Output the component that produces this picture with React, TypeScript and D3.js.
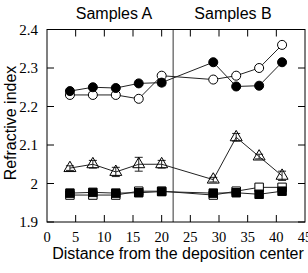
import React, { useEffect, useRef } from 'react';
import * as d3 from 'd3';

const xs = [4, 8, 12, 16, 20, 29, 33, 37, 41];
const filledCircles = [2.24, 2.25, 2.248, 2.26, 2.262, 2.315, 2.252, 2.254, 2.315];
const openCircles = [2.23, 2.23, 2.23, 2.22, 2.28, 2.27, 2.28, 2.3, 2.36];
const triangles = [2.04, 2.05, 2.03, 2.05, 2.05, 2.01, 2.12, 2.07, 2.02];
const triangleErr = [0.006, 0.01, 0.012, 0.018, 0.01, 0.006, 0.01, 0.006, 0.012];
const openSquares = [1.97, 1.97, 1.97, 1.98, 1.98, 1.97, 1.98, 1.99, 1.99];
const filledSquares = [1.975, 1.977, 1.975, 1.976, 1.979, 1.975, 1.976, 1.972, 1.98];
const xTicks = [0, 5, 10, 15, 20, 25, 30, 35, 40, 45];
const yTicks = [1.9, 2.0, 2.1, 2.2, 2.3, 2.4];
const divider = 22;

function App() {
    const ref = useRef<SVGSVGElement>(null);

    useEffect(() => {
        const svg = d3.select(ref.current);
        svg.selectAll('*').remove();

        const left = 47, right = 305, top = 29.5, bottom = 222;
        const x = d3.scaleLinear().domain([0, 45]).range([left, right]);
        const y = d3.scaleLinear().domain([1.9, 2.4]).range([bottom, top]);
        const tick = 7;
        const sans = 'Liberation Sans, Arial, sans-serif';
        const serif = 'Liberation Serif, Times New Roman, serif';

        // ticks, inward on all four sides
        const g = svg.append('g').attr('stroke', '#000').attr('stroke-width', 1);
        xTicks.forEach(t => {
            if (t === 0 || t === 45) return;
            g.append('line').attr('x1', x(t)).attr('x2', x(t)).attr('y1', bottom).attr('y2', bottom - tick);
            g.append('line').attr('x1', x(t)).attr('x2', x(t)).attr('y1', top).attr('y2', top + tick);
        });
        yTicks.forEach(t => {
            g.append('line').attr('x1', left).attr('x2', left + tick).attr('y1', y(t)).attr('y2', y(t));
            g.append('line').attr('x1', right).attr('x2', right - tick).attr('y1', y(t)).attr('y2', y(t));
        });

        svg.append('line')
            .attr('x1', x(divider)).attr('x2', x(divider))
            .attr('y1', top).attr('y2', bottom)
            .attr('stroke', '#333').attr('stroke-width', 1);

        // tick labels
        svg.append('g').selectAll('text').data(xTicks).enter().append('text')
            .attr('x', d => x(d)).attr('y', 242)
            .attr('text-anchor', 'middle')
            .attr('font-family', serif).attr('font-size', 14.5)
            .text(d => d);
        svg.append('g').selectAll('text').data(yTicks).enter().append('text')
            .attr('x', 38).attr('y', d => y(d) + 5)
            .attr('text-anchor', 'end')
            .attr('font-family', serif).attr('font-size', 15)
            .text(d => (d === 2 ? '2' : d3.format('.1f')(d)));

        // axis titles
        svg.append('text').attr('x', 178).attr('y', 259).attr('text-anchor', 'middle')
            .attr('font-family', sans).attr('font-size', 16)
            .text('Distance from the deposition center');
        svg.append('text').attr('transform', 'translate(16,123) rotate(-90)').attr('text-anchor', 'middle')
            .attr('font-family', sans).attr('font-size', 16)
            .text('Refractive index');
        svg.append('text').attr('x', 114).attr('y', 19).attr('text-anchor', 'middle')
            .attr('font-family', sans).attr('font-size', 16).text('Samples A');
        svg.append('text').attr('x', 233).attr('y', 19).attr('text-anchor', 'middle')
            .attr('font-family', sans).attr('font-size', 16).text('Samples B');

        const line = d3.line<number>().x((_, i) => x(xs[i])).y(d => y(d));
        const drawLine = (vals: number[]) =>
            svg.append('path').datum(vals).attr('d', line)
                .attr('fill', 'none').attr('stroke', '#222').attr('stroke-width', 1);

        [filledCircles, openCircles, triangles, openSquares, filledSquares].forEach(drawLine);

        // error bars on triangles
        const eb = svg.append('g').attr('stroke', '#222').attr('stroke-width', 1);
        triangles.forEach((v, i) => {
            const cx = x(xs[i]);
            const e = triangleErr[i];
            eb.append('line').attr('x1', cx).attr('x2', cx).attr('y1', y(v - e)).attr('y2', y(v + e));
            eb.append('line').attr('x1', cx - 4).attr('x2', cx + 4).attr('y1', y(v - e)).attr('y2', y(v - e));
            eb.append('line').attr('x1', cx - 4).attr('x2', cx + 4).attr('y1', y(v + e)).attr('y2', y(v + e));
        });
        // small error bar on filled circle at 20
        {
            const cx = x(xs[4]);
            const v = filledCircles[4];
            eb.append('line').attr('x1', cx - 4).attr('x2', cx + 4).attr('y1', y(v + 0.008)).attr('y2', y(v + 0.008));
            eb.append('line').attr('x1', cx - 4).attr('x2', cx + 4).attr('y1', y(v - 0.008)).attr('y2', y(v - 0.008));
            eb.append('line').attr('x1', cx).attr('x2', cx).attr('y1', y(v - 0.008)).attr('y2', y(v + 0.008));
        }

        const sym = (type: d3.SymbolType, size: number) => d3.symbol().type(type).size(size)();
        const drawPts = (vals: number[], type: d3.SymbolType, size: number, fill: string) =>
            svg.append('g').selectAll('path').data(vals).enter().append('path')
                .attr('transform', (d, i) => `translate(${x(xs[i])},${y(d)})`)
                .attr('d', sym(type, size))
                .attr('fill', fill).attr('stroke', '#000').attr('stroke-width', 1);

        drawPts(openSquares, d3.symbolSquare, 72, '#fff');
        drawPts(filledSquares, d3.symbolSquare, 72, '#000');
        drawPts(triangles, d3.symbolTriangle, 62, 'none');
        drawPts(openCircles, d3.symbolCircle, 64, '#fff');
        drawPts(filledCircles, d3.symbolCircle, 64, '#000');

        // frame
        svg.append('rect').attr('x', left).attr('y', top)
            .attr('width', right - left).attr('height', bottom - top)
            .attr('fill', 'none').attr('stroke', '#000').attr('stroke-width', 1);
    }, []);

    return (
        <svg ref={ref} width={308} height={273}
            style={{ position: 'absolute', left: 0, top: 0 }} />
    );
}

export default App;
